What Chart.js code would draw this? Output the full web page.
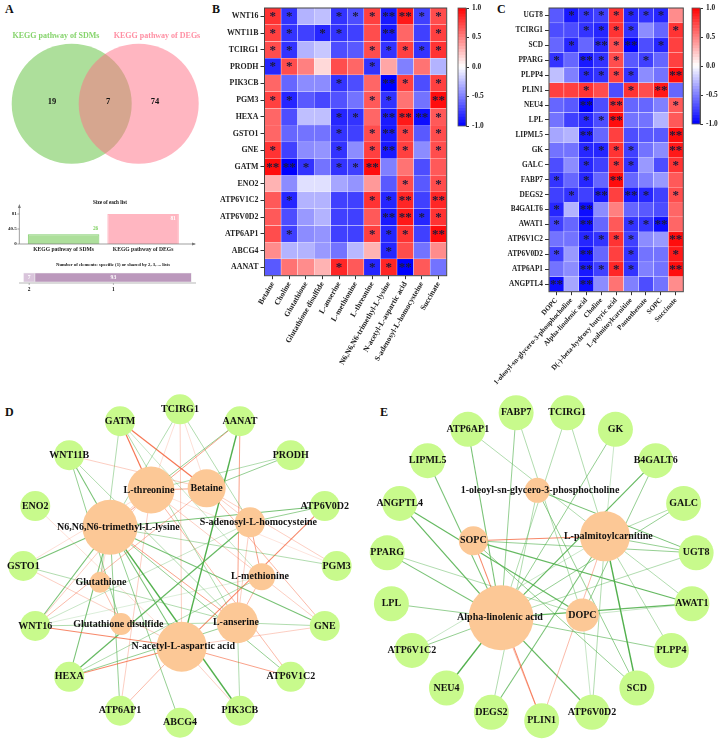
<!DOCTYPE html>
<html>
<head>
<meta charset="utf-8">
<script src="https://cdn.jsdelivr.net/npm/chart.js@4"></script>
<style>
html, body { margin: 0; padding: 0; background: #fff; overflow: hidden; }
#page { position: relative; width: 722px; height: 741px; }
canvas { position: absolute; }
.letter { position: absolute; font: bold 12px "Liberation Serif"; color: #111; }
</style>
</head>
<body>
<div id="page">
  <div class="letter" style="left:5px;top:2px">A</div>
  <div class="letter" style="left:212px;top:2px">B</div>
  <div class="letter" style="left:497px;top:2px">C</div>
  <div class="letter" style="left:5px;top:405px">D</div>
  <div class="letter" style="left:380px;top:405px">E</div>
</div>
<script>
// Panel A
const vennSets = ['KEGG pathway of SDMs', 'KEGG pathway of DEGs'];
const vennCounts = [19, 7, 74];
const listSizes = [26, 81];
const sharedLabels = ['2', '1'];
const sharedCounts = [7, 93];

// Panel B
const genesB = ['WNT16', 'WNT11B', 'TCIRG1', 'PRODH', 'PIK3CB', 'PGM3', 'HEXA', 'GSTO1', 'GNE', 'GATM', 'ENO2',
    'ATP6V1C2', 'ATP6V0D2', 'ATP6AP1', 'ABCG4', 'AANAT'];
const metabolitesB = ['Betaine', 'Choline', 'Glutathione', 'Glutathione disulfide', 'L-anserine', 'L-methionine',
    'L-threonine', 'N6,N6,N6-trimethyl-L-lysine', 'N-acetyl-L-aspartic acid', 'S-adenosyl-L-homocysteine', 'Succinate'];
const corrB = [
    [.8, -.8, -.3, -.25, -.8, -.7, .75, -.9, .9, -.75, .7],
    [.75, -.8, -.75, -.85, -.8, -.75, .7, -.9, .6, -.75, .75],
    [.7, -.8, -.3, -.22, -.7, -.65, .7, -.8, .75, -.8, .8],
    [-.85, .7, .5, .15, .7, .6, -.8, .35, -.5, .55, -.3],
    [.6, -.6, -.45, -.45, -.8, -.7, .6, -1, .75, -.7, .75],
    [.75, -.85, -.65, -.72, -.68, -.55, .65, -.8, .55, -.55, .95],
    [.6, -.7, -.25, -.25, -.85, -.8, .6, -.9, .9, -.95, .65],
    [.6, -.6, -.55, -.55, -.8, -.75, .7, -.9, .75, -.65, .7],
    [.8, -.75, -.45, -.42, -.8, -.45, .75, -.9, .75, -.45, .7],
    [.95, -1, -.8, -.55, -.8, -.75, .95, -.5, .55, -.7, .65],
    [.3, -.45, -.12, -.12, -.35, -.42, .4, -.65, .7, -.65, .7],
    [.65, -.85, -.3, -.3, -.75, -.75, .8, -.85, .85, -.75, .85],
    [.65, -.7, -.4, -.3, -.75, -.75, .65, -.9, .9, -.85, .8],
    [.7, -.75, -.45, -.42, -.75, -.75, .75, -.85, .8, -.75, .95],
    [.45, -.3, -.3, -.4, -.55, -.28, .3, -.85, .7, -.55, .45],
    [-.65, .55, .45, .3, .85, .65, -.85, .85, -1, .65, -.55]
];
const starsB = [
    [1, 1, 0, 0, 1, 1, 1, 2, 2, 1, 1],
    [1, 1, 0, 1, 1, 0, 0, 2, 0, 0, 1],
    [1, 1, 0, 0, 0, 0, 1, 1, 1, 1, 1],
    [1, 1, 0, 0, 0, 0, 1, 0, 0, 0, 0],
    [0, 0, 0, 0, 1, 0, 0, 2, 1, 0, 1],
    [1, 1, 0, 0, 0, 0, 1, 1, 0, 0, 2],
    [0, 0, 0, 0, 1, 1, 0, 2, 2, 2, 1],
    [0, 0, 0, 0, 1, 0, 1, 2, 1, 0, 1],
    [1, 0, 0, 0, 1, 0, 1, 2, 1, 0, 1],
    [2, 2, 1, 0, 1, 1, 2, 0, 0, 0, 0],
    [0, 0, 0, 0, 0, 0, 0, 0, 1, 0, 1],
    [0, 1, 0, 0, 0, 0, 1, 1, 2, 0, 2],
    [0, 0, 0, 0, 0, 0, 0, 2, 2, 1, 1],
    [0, 1, 0, 0, 0, 0, 1, 1, 1, 0, 2],
    [0, 0, 0, 0, 0, 0, 0, 1, 0, 0, 0],
    [0, 0, 0, 0, 1, 0, 1, 1, 2, 0, 0]
];

// Panel C
const genesC = ['UGT8', 'TCIRG1', 'SCD', 'PPARG', 'PLPP4', 'PLIN1', 'NEU4', 'LPL', 'LIPML5', 'GK', 'GALC', 'FABP7',
    'DEGS2', 'B4GALT6', 'AWAT1', 'ATP6V1C2', 'ATP6V0D2', 'ATP6AP1', 'ANGPTL4'];
const metabolitesC = ['DOPC', '1-oleoyl-sn-glycero-3-phosphocholine', 'Alpha-linolenic acid', 'Choline',
    'D(-)-beta-hydroxy butyric acid', 'L-palmitoylcarnitine', 'Pantothenate', 'SOPC', 'Succinate'];
const corrC = [
    [-.65, -.9, -.8, -.75, .8, -.85, -.8, -.85, .45],
    [-.7, -.7, -.8, -.85, .8, -.8, -.45, -.6, .8],
    [-.6, -.85, -.6, -.85, .7, -1, -.7, -.85, .75],
    [-.8, -.6, -.9, -.8, .7, -.65, -.75, -.6, .75],
    [-.25, -.5, -.85, -.8, .75, -.8, -.45, -.55, .95],
    [.75, .75, .8, .7, -.7, .8, .7, .9, -.6],
    [-.6, -.65, -1, -.7, .85, -.6, -.6, -.5, .65],
    [-.55, -.75, -.85, -.7, .95, -.55, -.55, -.3, .65],
    [-.35, -.3, -.9, -.6, .75, -.7, -.65, -.65, .95],
    [-.55, -.55, -.85, -.85, .8, -.75, -.55, -.45, .9],
    [-.7, -.45, -.85, -.75, .8, -.8, -.4, -.7, .8],
    [-.8, -.6, -.85, -.6, .95, -.6, -.5, -.4, .65],
    [-.75, -.8, -.75, -.9, .75, -.9, -.85, -.75, .7],
    [-.85, -.3, -.95, -.45, .5, -.6, -.65, -.7, .6],
    [-.75, -.6, -.95, -.6, .65, -.8, -.8, -.95, .6],
    [-.55, -.55, -.85, -.8, .8, -.75, -.45, -.4, .95],
    [-.75, -.4, -.95, -.6, .75, -.8, -.55, -.55, .9],
    [-.55, -.45, -.9, -.75, .85, -.8, -.5, -.55, .95],
    [-.95, -.35, -.95, -.45, .55, -.5, -.7, -.55, .45]
];
const starsC = [
    [0, 1, 1, 1, 1, 1, 1, 1, 0],
    [0, 0, 1, 1, 1, 1, 0, 0, 1],
    [0, 1, 0, 2, 1, 2, 0, 1, 0],
    [1, 0, 2, 1, 1, 0, 1, 0, 0],
    [0, 0, 1, 1, 1, 1, 0, 0, 2],
    [0, 0, 1, 0, 0, 1, 0, 2, 0],
    [0, 0, 2, 0, 2, 0, 0, 0, 1],
    [0, 0, 1, 1, 2, 0, 0, 0, 0],
    [0, 0, 2, 0, 0, 0, 0, 0, 2],
    [0, 0, 1, 1, 1, 1, 0, 0, 2],
    [0, 0, 1, 0, 1, 1, 0, 0, 1],
    [1, 0, 1, 0, 2, 0, 0, 0, 0],
    [0, 1, 0, 2, 0, 2, 1, 0, 1],
    [1, 0, 2, 0, 0, 0, 0, 0, 0],
    [1, 0, 2, 0, 0, 1, 1, 2, 0],
    [0, 0, 1, 1, 1, 1, 0, 0, 2],
    [1, 0, 2, 0, 0, 1, 0, 0, 1],
    [0, 0, 2, 1, 1, 1, 0, 0, 2],
    [2, 0, 2, 0, 0, 0, 0, 0, 0]
];

// Networks: outer ring order (clockwise) and metabolite-metabolite links
const ringD = ['TCIRG1', 'AANAT', 'PRODH', 'ATP6V0D2', 'PGM3', 'GNE', 'ATP6V1C2', 'PIK3CB', 'ABCG4', 'ATP6AP1', 'HEXA',
    'WNT16', 'GSTO1', 'ENO2', 'WNT11B', 'GATM'];
const ringE = ['PLIN1', 'DEGS2', 'NEU4', 'ATP6V1C2', 'LPL', 'PPARG', 'ANGPTL4', 'LIPML5', 'ATP6AP1', 'FABP7', 'TCIRG1',
    'GK', 'B4GALT6', 'GALC', 'UGT8', 'AWAT1', 'PLPP4', 'SCD', 'ATP6V0D2'];
const linksD = [['L-threonine', 'Betaine', .85], ['Betaine', 'S-adenosyl-L-homocysteine', .75],
    ['S-adenosyl-L-homocysteine', 'L-methionine', .85], ['L-methionine', 'L-anserine', .8],
    ['S-adenosyl-L-homocysteine', 'L-anserine', .75], ['Glutathione', 'Glutathione disulfide', .8],
    ['N6,N6,N6-trimethyl-L-lysine', 'L-anserine', .85], ['N6,N6,N6-trimethyl-L-lysine', 'L-threonine', .75],
    ['N6,N6,N6-trimethyl-L-lysine', 'N-acetyl-L-aspartic acid', -.9], ['N6,N6,N6-trimethyl-L-lysine', 'Glutathione', .7]];
const linksE = [['SOPC', 'L-palmitoylcarnitine', .9]];

// Layout of the inner nodes, in network axis units, and their radii in px
const innerD = {
    'N6,N6,N6-trimethyl-L-lysine': [330, 457, 27.5, 25], 'N-acetyl-L-aspartic acid': [545, 815, 25, 5],
    'L-threonine': [453, 345, 23.5, -6], 'Betaine': [620, 340, 19, 0], 'L-anserine': [712, 743, 20.5, -4],
    'S-adenosyl-L-homocysteine': [750, 442, 15, 25], 'L-methionine': [785, 605, 13.5, -5],
    'Glutathione': [300, 622, 10.5, 3], 'Glutathione disulfide': [363, 747, 11, -8]
};
const innerE = {
    '1-oleoyl-sn-glycero-3-phosphocholine': [532, 346, 12.5, 8], 'L-palmitoylcarnitine': [735, 484, 25, 10],
    'SOPC': [340, 497, 14.5, 0], 'Alpha-linolenic acid': [423, 728, 32.5, -3], 'DOPC': [667, 720, 16.5, 0]
};

const FONT = '"Liberation Serif"';
Chart.defaults.font.family = FONT;
Chart.defaults.font.weight = 'bold';
Chart.defaults.color = '#111';
Chart.defaults.animation = false;
Chart.defaults.responsive = false;
Chart.defaults.plugins.legend.display = false;
Chart.defaults.plugins.tooltip.enabled = false;
Chart.defaults.layout.autoPadding = false;

function addCanvas(left, top, w, h) {
    const c = document.createElement('canvas');
    c.width = w;
    c.height = h;
    c.style.left = left + 'px';
    c.style.top = top + 'px';
    document.getElementById('page').appendChild(c);
    return c;
}

function text(ctx, str, x, y, size, color, align) {
    ctx.save();
    ctx.font = 'bold ' + size + 'px ' + FONT;
    ctx.fillStyle = color || '#111';
    ctx.textAlign = align || 'center';
    ctx.textBaseline = 'middle';
    ctx.fillText(str, x, y);
    ctx.restore();
}

function heatColor(v) {
    const t = Math.round(255 * (1 - Math.abs(v)));
    return v < 0 ? `rgb(${t},${t},255)` : `rgb(255,${t},${t})`;
}

// Panel A: venn
new Chart(addCanvas(0, 20, 215, 160), {
    type: 'bubble',
    data: {
        datasets: [
            { data: [{ x: 138.7, y: 83.7, r: 60 }], backgroundColor: 'rgba(255,109,131,0.5)', borderWidth: 0, order: 0, clip: false },
            { data: [{ x: 71.7, y: 83.7, r: 60 }], backgroundColor: 'rgb(173,223,155)', borderWidth: 0, order: 1, clip: false }
        ]
    },
    options: {
        layout: { padding: 0 },
        scales: {
            x: { display: false, min: 0, max: 215 },
            y: { display: false, min: 0, max: 160, reverse: true }
        }
    },
    plugins: [{
        id: 'vennText',
        afterDraw(chart) {
            const ctx = chart.ctx;
            text(ctx, vennSets[0], 56, 16, 8, '#86d46c');
            text(ctx, vennSets[1], 157, 16, 8, '#ff8fa3');
            text(ctx, vennCounts[0], 52, 82, 8.5);
            text(ctx, vennCounts[1], 108, 82, 8.5);
            text(ctx, vennCounts[2], 155, 82, 8.5);
        }
    }]
});

// Panel A: size of each list
new Chart(addCanvas(0, 198, 210, 58), {
    type: 'bar',
    data: {
        labels: vennSets,
        datasets: [{
            data: listSizes,
            backgroundColor: ['rgb(173,223,155)', 'rgb(255,182,193)'],
            borderColor: ['rgb(130,205,110)', 'rgb(255,182,193)'],
            borderWidth: 1,
            barPercentage: 0.9,
            categoryPercentage: 1
        }]
    },
    options: {
        layout: { padding: { top: 16, right: 27.15 } },
        scales: {
            x: {
                grid: { display: false, drawTicks: false },
                border: { display: false },
                ticks: { font: { size: 5.6 }, padding: 2, maxRotation: 0, autoSkip: false, color: '#222' },
                afterFit(s) { s.height = 12; s.paddingLeft = 0; s.paddingRight = 0; }
            },
            y: {
                min: 0,
                max: 81,
                grid: { display: false, drawTicks: false },
                border: { display: false },
                ticks: { font: { size: 5 }, padding: 7, autoSkip: false, callback: v => String(v), color: '#222' },
                afterBuildTicks(s) { s.ticks = [{ value: 0 }, { value: 40.5 }, { value: 81 }]; },
                afterFit(s) { s.width = 23.85; }
            }
        }
    },
    plugins: [{
        id: 'sizeAxes',
        afterDraw(chart) {
            const ctx = chart.ctx, a = chart.chartArea, x0 = a.left - 4.5;
            ctx.save();
            ctx.strokeStyle = '#777';
            ctx.fillStyle = '#777';
            ctx.lineWidth = 0.7;
            ctx.beginPath();
            ctx.moveTo(x0, a.bottom);
            ctx.lineTo(x0, 8);
            ctx.moveTo(x0, a.bottom);
            ctx.lineTo(195, a.bottom);
            chart.scales.y.ticks.forEach(t => {
                const py = chart.scales.y.getPixelForValue(t.value);
                ctx.moveTo(x0 - 2, py);
                ctx.lineTo(x0, py);
            });
            ctx.stroke();
            ctx.beginPath();
            ctx.moveTo(x0, 6);
            ctx.lineTo(x0 - 1.5, 10);
            ctx.lineTo(x0 + 1.5, 10);
            ctx.fill();
            ctx.beginPath();
            ctx.moveTo(196, a.bottom);
            ctx.lineTo(192, a.bottom - 1.5);
            ctx.lineTo(192, a.bottom + 1.5);
            ctx.fill();
            ctx.restore();
            text(ctx, 'Size of each list', 110, 5, 5.2);
            const meta = chart.getDatasetMeta(0).data;
            text(ctx, listSizes[0], meta[0].x + 32, meta[0].y - 6, 5.4, '#7ed05f');
            text(ctx, listSizes[1], meta[1].x + 30, meta[1].y + 4.5, 5.4, '#fff');
        }
    }]
});

// Panel A: shared elements strip
new Chart(addCanvas(0, 258, 210, 36), {
    type: 'bar',
    data: {
        labels: [''],
        datasets: [
            { data: [sharedCounts[0]], backgroundColor: 'rgb(217,196,219)' },
            { data: [sharedCounts[1]], backgroundColor: 'rgb(187,152,188)' }
        ].map(d => ({ ...d, borderColor: '#d8d8d8', borderWidth: 0.6, barPercentage: 0.88, categoryPercentage: 1 }))
    },
    options: {
        indexAxis: 'y',
        layout: { padding: { left: 23.3, right: 18.3, top: 14 } },
        scales: {
            x: {
                stacked: true,
                min: 0,
                max: 100,
                grid: { display: false, drawTicks: false },
                border: { display: false },
                ticks: { font: { size: 5.4 }, padding: 3.5, autoSkip: false, maxRotation: 0, callback: (v, i) => sharedLabels[i] },
                afterBuildTicks(s) { s.ticks = [{ value: 3.5 }, { value: 53.5 }]; },
                afterFit(s) { s.height = 11; s.paddingLeft = 0; s.paddingRight = 0; }
            },
            y: { stacked: true, display: false }
        }
    },
    plugins: [{
        id: 'sharedText',
        afterDraw(chart) {
            const ctx = chart.ctx, a = chart.chartArea, x = chart.scales.x;
            ctx.save();
            ctx.strokeStyle = '#999';
            ctx.lineWidth = 0.7;
            ctx.beginPath();
            ctx.moveTo(19, a.bottom);
            ctx.lineTo(196, a.bottom);
            [3.5, 53.5].forEach(v => {
                ctx.moveTo(x.getPixelForValue(v), a.bottom);
                ctx.lineTo(x.getPixelForValue(v), a.bottom + 2);
            });
            ctx.stroke();
            ctx.restore();
            text(ctx, 'Number of elements: specific (1) or shared by 2, 3, ... lists', 113, 6.5, 4.7);
            const midY = (a.top + a.bottom) / 2;
            text(ctx, sharedCounts[0], x.getPixelForValue(3.5), midY, 5.6, '#fff');
            text(ctx, sharedCounts[1], x.getPixelForValue(53.5), midY, 5.6, '#fff');
        }
    }]
});

// Heatmap: one stacked bar column per metabolite, one dataset per gene
function heatmap(left, w, h, opt) {
    new Chart(addCanvas(left, 0, w, h), {
        type: 'bar',
        data: {
            labels: opt.cols,
            datasets: opt.rows.map((gene, r) => ({
                label: gene,
                data: opt.cols.map(() => 1),
                backgroundColor: opt.corr[r].map(heatColor),
                borderColor: 'rgba(255,255,255,0.4)',
                borderWidth: 0.5,
                barPercentage: 1,
                categoryPercentage: 1
            }))
        },
        options: {
            layout: { padding: { top: 8, right: opt.right } },
            scales: {
                x: {
                    stacked: true,
                    grid: { display: true, drawOnChartArea: false, offset: false, tickLength: 3.5, tickColor: '#333' },
                    border: { display: false },
                    ticks: { font: { size: opt.colFont }, padding: 1, autoSkip: false, minRotation: opt.rot, maxRotation: opt.rot, color: '#222' },
                    afterFit(s) { s.height = opt.xHeight; s.paddingLeft = 0; s.paddingRight = 0; }
                },
                y: {
                    stacked: true,
                    reverse: true,
                    min: 0,
                    max: opt.rows.length,
                    grid: { display: true, drawOnChartArea: false, tickLength: 4, tickColor: '#333' },
                    border: { display: false },
                    ticks: { font: { size: opt.rowFont }, padding: 2, autoSkip: false, callback: (v, i) => opt.rows[i], color: '#222' },
                    afterBuildTicks(s) { s.ticks = opt.rows.map((g, i) => ({ value: i + 0.5 })); },
                    afterFit(s) { s.width = opt.yWidth; }
                }
            }
        },
        plugins: [{
            id: 'stars',
            afterDraw(chart) {
                const ctx = chart.ctx, a = chart.chartArea;
                ctx.save();
                ctx.font = 'bold 13px ' + FONT;
                ctx.fillStyle = '#1c1c3a';
                ctx.textAlign = 'center';
                ctx.textBaseline = 'alphabetic';
                opt.stars.forEach((row, r) => row.forEach((n, c) => {
                    if (!n) return;
                    const px = chart.scales.x.getPixelForValue(c);
                    const py = chart.scales.y.getPixelForValue(r + 0.5);
                    ctx.fillText('*'.repeat(n), px, py + 3.9);
                }));
                ctx.strokeStyle = '#444';
                ctx.lineWidth = 1;
                ctx.strokeRect(a.left, a.top, a.right - a.left, a.bottom - a.top);
                ctx.restore();
            }
        }]
    });
}

heatmap(215, 235, 375, {
    rows: genesB, cols: metabolitesB, corr: corrB, stars: starsB,
    yWidth: 49.5, right: 3.3, xHeight: 99.3, rot: 60, colFont: 7.7, rowFont: 7.9
});
heatmap(470, 217, 400, {
    rows: genesC, cols: metabolitesC, corr: corrC, stars: starsC,
    yWidth: 79, right: 3.7, xHeight: 108.3, rot: 48, colFont: 7.2, rowFont: 7.3
});

// Colour bars, one floating bar per colour step
function colorBar(left, plotHeight) {
    const steps = [];
    for (let i = 0; i < 40; i++) steps.push(-1 + i * 0.05);
    new Chart(addCanvas(left, 0, 36, plotHeight + 20), {
        type: 'bar',
        data: {
            labels: [''],
            datasets: steps.map(lo => ({
                data: [[lo, lo + 0.05]],
                backgroundColor: heatColor(lo + 0.025),
                borderWidth: 0,
                barPercentage: 1,
                categoryPercentage: 1
            }))
        },
        options: {
            layout: { padding: { top: 8, bottom: 12, left: 7 } },
            scales: {
                x: { stacked: true, display: false },
                y: {
                    position: 'right',
                    min: -1,
                    max: 1,
                    grid: { display: true, drawOnChartArea: false, tickLength: 3, tickColor: '#333' },
                    border: { color: '#555' },
                    ticks: { stepSize: 0.5, font: { size: 7.4 }, padding: 3, callback: v => v.toFixed(1), color: '#222' },
                    afterFit(s) { s.width = 21; }
                }
            }
        },
        plugins: [{
            id: 'barFrame',
            afterDraw(chart) {
                const a = chart.chartArea;
                chart.ctx.save();
                chart.ctx.strokeStyle = '#555';
                chart.ctx.lineWidth = 0.8;
                chart.ctx.strokeRect(a.left, a.top, a.right - a.left, a.bottom - a.top);
                chart.ctx.restore();
            }
        }]
    });
}
colorBar(450.7, 118);
colorBar(685.3, 116);

// Networks: edges come from the starred cells of the heatmaps
function network(left, w, opt) {
    const pos = {};
    opt.ring.forEach((g, i) => {
        const a = (opt.start + i * 360 / opt.ring.length) * Math.PI / 180;
        pos[g] = { x: opt.cx + opt.radius * Math.sin(a), y: opt.cy - opt.radius * Math.cos(a) };
    });
    Object.keys(opt.inner).forEach(m => {
        pos[m] = { x: opt.inner[m][0], y: opt.inner[m][1] };
    });

    const edges = [];
    opt.rows.forEach((g, r) => opt.cols.forEach((m, c) => {
        if (opt.stars[r][c] && pos[m] && pos[g]) edges.push([g, m, opt.corr[r][c]]);
    }));
    opt.links.forEach(l => edges.push(l));

    const edgeSets = edges.map(e => {
        const s = Math.abs(e[2]);
        const alpha = Math.min(1, Math.max(0.3, (s - 0.55) * 2.2));
        return {
            data: [pos[e[0]], pos[e[1]]],
            showLine: true,
            pointRadius: 0,
            borderColor: e[2] > 0 ? `rgba(245,100,60,${alpha})` : `rgba(80,175,75,${alpha})`,
            borderWidth: 0.4 + Math.pow(s, 4) * 1,
            order: 2
        };
    });

    new Chart(addCanvas(left, 375, w, 366), {
        type: 'scatter',
        data: {
            datasets: edgeSets.concat([
                {
                    data: opt.ring.map(g => pos[g]),
                    pointRadius: opt.geneRadius,
                    backgroundColor: 'rgb(200,250,140)',
                    borderWidth: 0,
                    order: 1
                },
                {
                    data: Object.keys(opt.inner).map(m => pos[m]),
                    pointRadius: Object.keys(opt.inner).map(m => opt.inner[m][2]),
                    backgroundColor: 'rgb(252,200,150)',
                    borderWidth: 0,
                    order: 0
                }
            ])
        },
        options: {
            layout: { padding: 0 },
            scales: {
                x: { display: false, min: 0, max: w * 3 },
                y: { display: false, min: 0, max: 1098, reverse: true }
            }
        },
        plugins: [{
            id: 'nodeLabels',
            afterDraw(chart) {
                const ctx = chart.ctx, x = chart.scales.x, y = chart.scales.y;
                opt.ring.forEach(g => text(ctx, g, x.getPixelForValue(pos[g].x), y.getPixelForValue(pos[g].y), 10));
                Object.keys(opt.inner).forEach(m => {
                    const dx = opt.inner[m][3];
                    text(ctx, m, x.getPixelForValue(pos[m].x + dx), y.getPixelForValue(pos[m].y), 10);
                });
            }
        }]
    });
}

network(0, 360, {
    ring: ringD, inner: innerD, links: linksD, rows: genesB, cols: metabolitesB, corr: corrB, stars: starsB,
    cx: 540, cy: 573, radius: 470, start: 0, geneRadius: 15
});
network(360, 362, {
    ring: ringE, inner: innerE, links: linksE, rows: genesC, cols: metabolitesC, corr: corrC, stars: starsC,
    cx: 545, cy: 572, radius: 465, start: 180, geneRadius: 17.5
});
</script>
</body>
</html>
